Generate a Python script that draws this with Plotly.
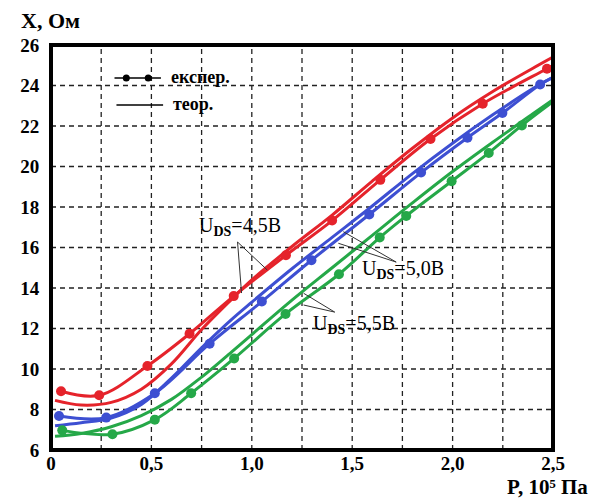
import plotly.graph_objects as go

# ---------------- data ----------------
red_exp_x = [0.05, 0.24, 0.48, 0.69, 0.91, 1.17, 1.40, 1.64, 1.89, 2.15, 2.47]
red_exp_y = [8.9, 8.7, 10.15, 11.74, 13.6, 15.62, 17.33, 19.34, 21.36, 23.1, 24.83]
red_exp_end = (2.5, 25.0)

blue_exp_x = [0.04, 0.275, 0.517, 0.79, 1.05, 1.297, 1.585, 1.843, 2.074, 2.248, 2.436]
blue_exp_y = [7.68, 7.6, 8.8, 11.25, 13.33, 15.37, 17.63, 19.7, 21.42, 22.64, 24.05]
blue_exp_end = (2.5, 24.4)

green_exp_x = [0.056, 0.306, 0.517, 0.698, 0.912, 1.168, 1.434, 1.637, 1.769, 1.995, 2.18, 2.345]
green_exp_y = [6.97, 6.78, 7.5, 8.8, 10.52, 12.72, 14.68, 16.49, 17.56, 19.27, 20.67, 22.03]
green_exp_end = (2.5, 23.2)

theory_x = [0.02, 0.15, 0.3, 0.45, 0.6, 0.75, 0.9, 1.0, 1.2, 1.4, 1.6, 1.8, 2.0, 2.2, 2.4, 2.5]
red_theor = [8.45, 8.22, 8.35, 9.0, 10.25, 11.95, 13.45, 14.4, 16.05, 17.6, 19.28, 20.9, 22.4, 23.7, 24.85, 25.4]
blue_theor = [7.2, 7.35, 7.58, 8.25, 9.55, 11.05, 12.45, 13.3, 14.95, 16.5, 18.05, 19.65, 21.15, 22.55, 23.85, 24.4]
green_theor = [6.68, 6.82, 7.15, 7.7, 8.5, 9.6, 10.85, 11.7, 13.4, 15.0, 16.6, 18.2, 19.75, 21.2, 22.6, 23.3]

x_tickvals = [0, 0.5, 1.0, 1.5, 2.0, 2.5]
x_ticktext = ["0", "0,5", "1,0", "1,5", "2,0", "2,5"]
y_tickvals = [6, 8, 10, 12, 14, 16, 18, 20, 22, 24, 26]
x_grid = [0.25, 0.5, 0.75, 1.0, 1.25, 1.5, 1.75, 2.0, 2.25]
y_grid = [8, 10, 12, 14, 16, 18, 20, 22, 24]

labels = ["U<sub><b>DS</b></sub>=4,5B", "U<sub><b>DS</b></sub>=5,0B", "U<sub><b>DS</b></sub>=5,5B"]
label_pos = [(0.939, 17.05), (1.754, 14.9), (1.507, 12.2)]
# leader lines: apex -> two curve points
leaders = [
    ((0.929, 16.27), [(0.949, 13.75), (1.077, 14.89)]),
    ((1.719, 15.28), [(1.456, 16.78), (1.431, 16.21)]),
    ((1.413, 12.81), [(1.258, 13.74), (1.258, 13.16)]),
]

RED, BLUE, GREEN = "#e5232b", "#3d4fd2", "#25a848"
SERIF = "Liberation Serif"

fig = go.Figure()

for col, ex, ey, end, th in [
    (RED, red_exp_x, red_exp_y, red_exp_end, red_theor),
    (BLUE, blue_exp_x, blue_exp_y, blue_exp_end, blue_theor),
    (GREEN, green_exp_x, green_exp_y, green_exp_end, green_theor),
]:
    fig.add_trace(go.Scatter(x=theory_x, y=th, mode="lines",
                             line=dict(color=col, width=3, shape="spline"),
                             showlegend=False, hoverinfo="skip"))
    fig.add_trace(go.Scatter(x=ex + [end[0]], y=ey + [end[1]], mode="lines",
                             line=dict(color=col, width=3, shape="spline"),
                             showlegend=False, hoverinfo="skip"))
    fig.add_trace(go.Scatter(x=ex, y=ey, mode="markers",
                             marker=dict(color=col, size=10),
                             showlegend=False))

shapes = []
# dashed grid drawn below traces
for gx in x_grid:
    shapes.append(dict(type="line", xref="x", yref="paper", x0=gx, x1=gx, y0=0, y1=1,
                       layer="below", line=dict(color="#222", width=1.3, dash="5px,4px")))
for gy in y_grid:
    shapes.append(dict(type="line", xref="paper", yref="y", x0=0, x1=1, y0=gy, y1=gy,
                       layer="below", line=dict(color="#222", width=1.3, dash="5px,4px")))

for apex, ends in leaders:
    for e in ends:
        shapes.append(dict(type="line", xref="x", yref="y",
                           x0=apex[0], y0=apex[1], x1=e[0], y1=e[1],
                           line=dict(color="#333", width=1)))

# legend keys (paper coords)
shapes.append(dict(type="line", xref="paper", yref="paper",
                   x0=0.1265, x1=0.219, y0=0.9185, y1=0.9185,
                   line=dict(color="black", width=1.5)))
shapes.append(dict(type="line", xref="paper", yref="paper",
                   x0=0.1304, x1=0.2233, y0=0.852, y1=0.852,
                   line=dict(color="black", width=1.5)))
for px in [0.150, 0.1937]:
    shapes.append(dict(type="circle", xref="paper", yref="paper",
                       xsizemode="pixel", ysizemode="pixel",
                       xanchor=px, yanchor=0.9185,
                       x0=-3.5, x1=3.5, y0=-3.5, y1=3.5,
                       fillcolor="black", line=dict(color="black", width=0)))
# frame
shapes.append(dict(type="rect", xref="paper", yref="paper", x0=0, x1=1, y0=0, y1=1,
                   line=dict(color="black", width=4)))

annotations = []
for txt, (ax_, ay_) in zip(labels, label_pos):
    annotations.append(dict(x=ax_, y=ay_, xref="x", yref="y", text=txt,
                            showarrow=False, font=dict(family=SERIF, size=20, color="black")))

annotations += [
    dict(x=0.235, y=0.921, xref="paper", yref="paper", text="експер.", showarrow=False,
         xanchor="left", yanchor="middle", font=dict(family=SERIF, size=18, color="black", weight="bold")),
    dict(x=0.239, y=0.855, xref="paper", yref="paper", text="теор.", showarrow=False,
         xanchor="left", yanchor="middle", font=dict(family=SERIF, size=18, color="black", weight="bold")),
    dict(x=-0.064, y=1.06, xref="paper", yref="paper", text="X, Ом", showarrow=False,
         xanchor="left", yanchor="middle", font=dict(family=SERIF, size=22, color="black", weight="bold")),
    dict(x=1.073, y=-0.127, xref="paper", yref="paper", text="P, 10⁵ Па", showarrow=False,
         xanchor="right", yanchor="bottom", font=dict(family=SERIF, size=21, color="black", weight="bold")),
]

# page body has an 8px default margin -> compensate in size & margins
fig.update_layout(
    width=592, height=494,
    margin=dict(l=39, r=47, t=37, b=52),
    paper_bgcolor="white", plot_bgcolor="white",
    shapes=shapes, annotations=annotations,
    xaxis=dict(range=[0, 2.5], tickvals=x_tickvals, ticktext=x_ticktext,
               showline=False, showgrid=False, zeroline=False, ticks="",
               tickfont=dict(family=SERIF, size=19, color="black", weight="bold")),
    yaxis=dict(range=[6, 26], tickvals=y_tickvals,
               showline=False, showgrid=False, zeroline=False,
               ticks="outside", ticklen=7, tickcolor="rgba(0,0,0,0)",
               tickfont=dict(family=SERIF, size=19, color="black", weight="bold")),
)

fig.write_html("out.html")
